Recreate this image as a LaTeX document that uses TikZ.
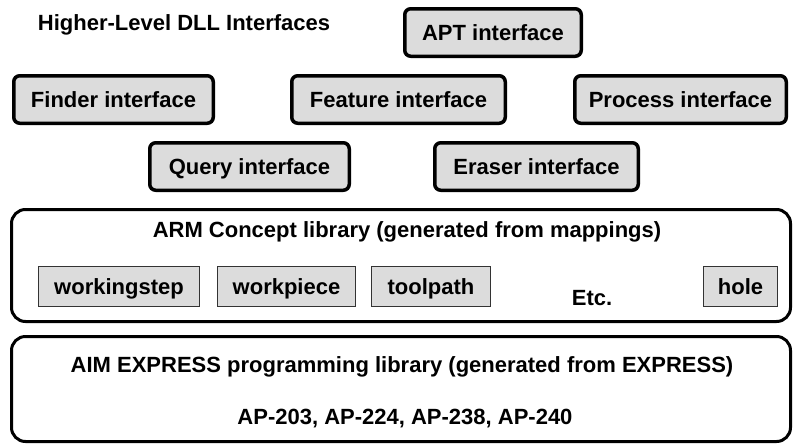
\documentclass[tikz,border=0pt]{standalone}
\usepackage{fontspec}
\setmainfont{Liberation Sans}
\definecolor{boxgray}{HTML}{DCDCDC}
\begin{document}
\begin{tikzpicture}[x=1pt,y=-1pt,
  font=\fontsize{22}{26}\selectfont\bfseries,
  every node/.style={text height=15.8pt,text depth=0pt},
  iface/.style={draw=black,fill=boxgray,line width=3.5pt,rounded corners=6pt,inner sep=0pt,minimum height=47.5pt},
  lib/.style={draw=black,fill=white,line width=3pt,rounded corners=14pt,inner sep=0pt,minimum width=779pt},
  concept/.style={draw=black!80,fill=boxgray,line width=1.2pt,inner sep=0pt,minimum height=40pt},
  label/.style={inner sep=0pt}]
\useasboundingbox (0,0) rectangle (793,445);
\node[label] (title) at (184,22.5) {Higher-Level DLL Interfaces};
\node[iface,minimum width=176.5pt] (apt) at (493,32.5) {APT interface};
\node[iface,minimum width=199.5pt] (finder) at (113.5,99.5) {Finder interface};
\node[iface,minimum width=213.5pt] (feature) at (398.5,99.5) {Feature interface};
\node[iface,minimum width=211.5pt] (process) at (680.5,99.5) {Process interface};
\node[iface,minimum width=199.5pt] (query) at (249.5,166.5) {Query interface};
\node[iface,minimum width=203.5pt] (eraser) at (536.5,166.5) {Eraser interface};
\node[lib,minimum height=112pt] (arm) at (401,265.5) {};
\node[label] (armtext) at (407,230) {ARM Concept library (generated from mappings)};
\node[concept,minimum width=161pt] (ws) at (119,286.5) {workingstep};
\node[concept,minimum width=138pt] (wp) at (286.5,286.5) {workpiece};
\node[concept,minimum width=119pt] (tp) at (431,286.5) {toolpath};
\node[label] (etc) at (592,298) {Etc.};
\node[concept,minimum width=74pt] (hole) at (740.5,286.5) {hole};
\node[lib,minimum height=105pt] (aim) at (401,389) {};
\node[label] (aimtext) at (402,365) {AIM EXPRESS programming library (generated from EXPRESS)};
\node[label] (aps) at (405,417) {AP-203, AP-224, AP-238, AP-240};
\end{tikzpicture}
\end{document}
